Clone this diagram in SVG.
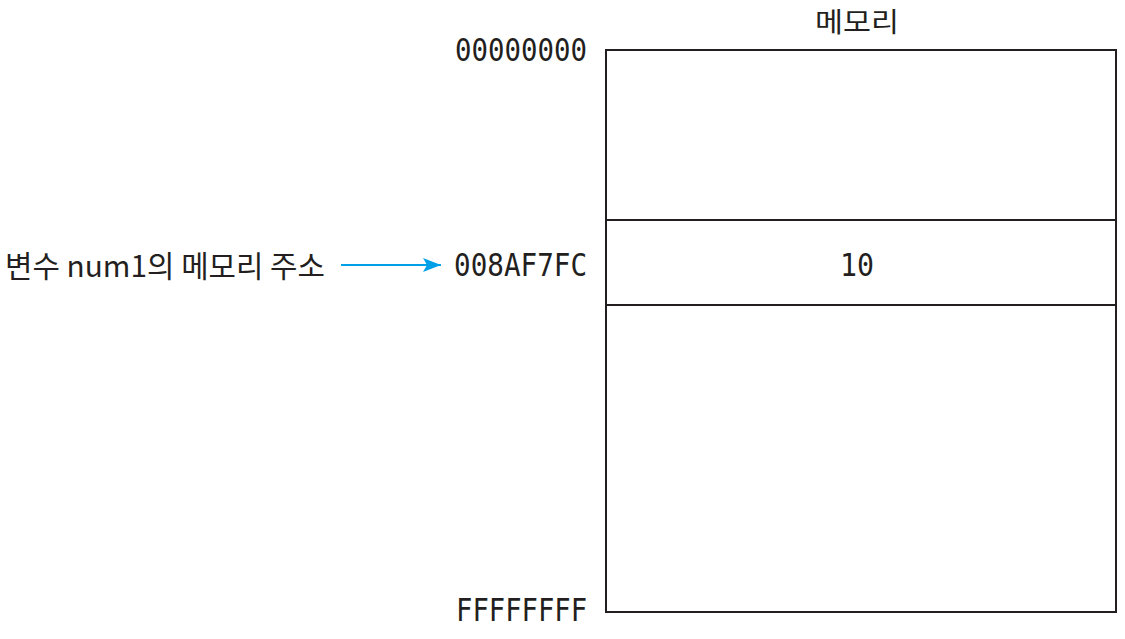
<svg xmlns="http://www.w3.org/2000/svg" width="1125" height="639" viewBox="0 0 1125 639">
<style>
.mono{font-family:"DejaVu Sans Mono","Liberation Mono",monospace;font-size:32px;fill:#231f20}
.kr{font-family:"Noto Sans CJK KR","Noto Sans",sans-serif;font-size:30px;fill:#231f20}
.title{font-size:27.5px}
.box{fill:none;stroke:#231f20;stroke-width:2}
</style>
<defs>
<marker id="ah" markerWidth="18" markerHeight="14" refX="18" refY="7" orient="auto" markerUnits="userSpaceOnUse">
<path d="M0,0 L18,7 L0,14 L4,7 Z" fill="#00a0e9"/>
</marker>
</defs>
<rect width="1125" height="639" fill="#ffffff"/>
<g id="memory">
<text class="kr title" x="857" y="32" text-anchor="middle" textLength="84" lengthAdjust="spacingAndGlyphs">메모리</text>
<rect class="box" x="606" y="50" width="510" height="562"/>
<line class="box" x1="606" y1="220" x2="1116" y2="220"/>
<line class="box" x1="606" y1="305" x2="1116" y2="305"/>
<text class="mono" x="857" y="276" text-anchor="middle" textLength="34" lengthAdjust="spacingAndGlyphs">10</text>
</g>
<g id="addresses">
<text class="mono" x="587" y="61" text-anchor="end" textLength="132" lengthAdjust="spacingAndGlyphs">00000000</text>
<text class="mono" x="587" y="276" text-anchor="end" textLength="133" lengthAdjust="spacingAndGlyphs">008AF7FC</text>
<text class="mono" x="587" y="621" text-anchor="end" textLength="131" lengthAdjust="spacingAndGlyphs">FFFFFFFF</text>
</g>
<g id="label">
<text class="kr" x="5" y="277" textLength="320" lengthAdjust="spacingAndGlyphs">변수 num1의 메모리 주소</text>
</g>
<g id="connectors">
<line x1="341" y1="265" x2="441" y2="265" stroke="#00a0e9" stroke-width="2" marker-end="url(#ah)"/>
</g>
</svg>
